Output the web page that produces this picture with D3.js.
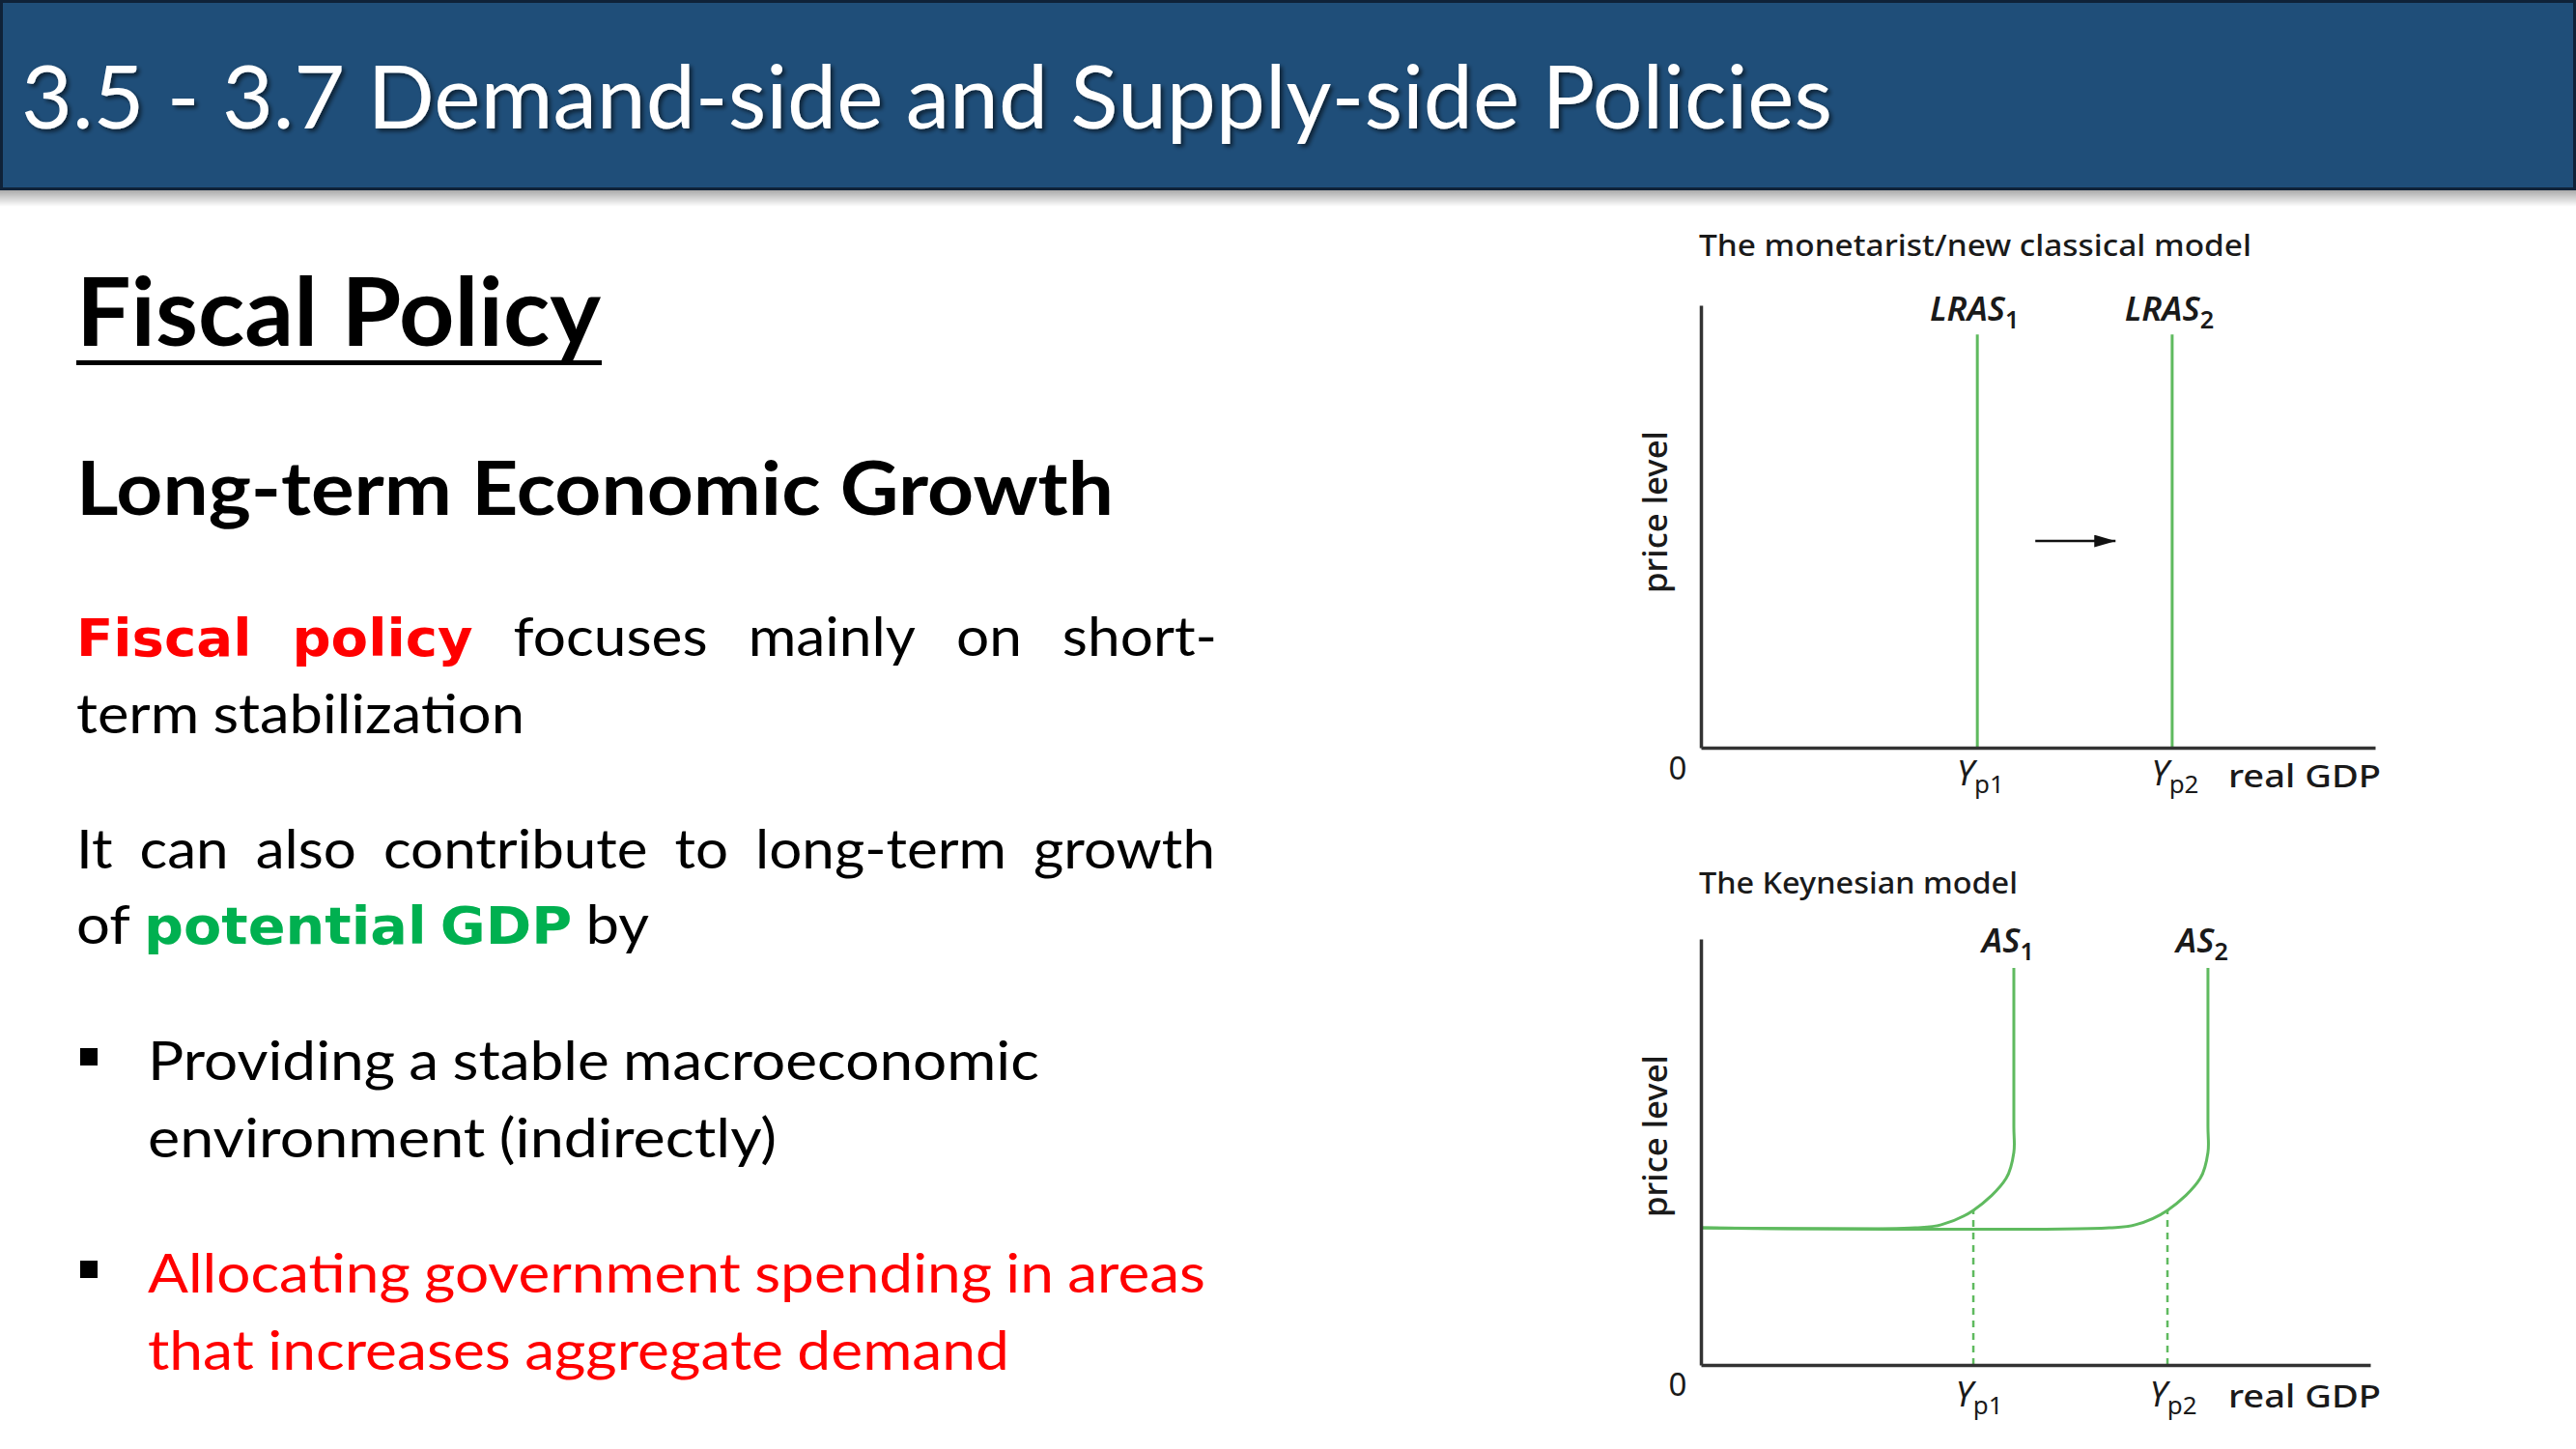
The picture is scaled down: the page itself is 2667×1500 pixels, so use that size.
<!DOCTYPE html>
<html>
<head>
<meta charset="utf-8">
<script src="https://cdn.jsdelivr.net/npm/d3@7"></script>
<style>
  body { margin: 0; background: #fff; }
  svg { display: block; }
  .slide-txt { font-family: Lato, "Open Sans", sans-serif; }
  .body { font-size: 57px; fill: #000; }
  .red { fill: #ff0000; }
  .hl-red { font-family: "DejaVu Sans", sans-serif; font-size: 53px; font-weight: 700; fill: #ff0000; }
  .hl-green { font-family: "DejaVu Sans", sans-serif; font-size: 53px; font-weight: 700; fill: #00b050; }
  .fig-txt { font-family: "Noto Sans", "Open Sans", sans-serif; fill: #1a1a1a; }
</style>
</head>
<body>
<svg id="slide" width="2667" height="1500"></svg>
<script>
// Slide text
var HEADER_TITLE = "3.5 - 3.7 Demand-side and Supply-side Policies";
var SECTION_TITLE = "Fiscal Policy";
var SUB_TITLE = "Long-term Economic Growth";

// each line = list of [text, style]
var BODY_LINES = [
  [["Fiscal policy", "hl-red"], ["focuses mainly on short-", ""]],
  [["term stabilization", ""]],
  [["It can also contribute to long-term growth", ""]],
  [["of", ""], ["potential GDP", "hl-green"], ["by", ""]],
  [["Providing a stable macroeconomic", ""]],
  [["environment (indirectly)", ""]],
  [["Allocating government spending in areas", "red"]],
  [["that increases aggregate demand", "red"]]
];

// Chart 1 - monetarist / new classical model
var CHART1_TITLE = "The monetarist/new classical model";
var LRAS_X = [41.0, 69.9];
var LRAS_SUB = ["1", "2"];
var LRAS_TOP = 93.4;
var SHIFT_ARROW = [[49.6, 46.7], [61.5, 46.7]];

// Chart 2 - Keynesian model
var CHART2_TITLE = "The Keynesian model";
var AS_SUB = ["1", "2"];
var AS1_POINTS = [[0, 32.2], [32.0, 32.2], [35.9, 32.9], [40.7, 36.3], [45.6, 43.8], [46.75, 49.9], [46.75, 56.0], [46.75, 93.2]];
var AS2_POINTS = [[0, 32.2], [61.0, 32.2], [64.9, 32.9], [69.7, 36.3], [74.6, 43.8], [75.75, 49.9], [75.75, 56.0], [75.75, 93.2]];
var YP_SUB = ["p1", "p2"];

var GREEN = "#5fba5f";
var AXIS = "#333";

var svg = d3.select("#slide");

// defs
var defs = svg.append("defs");
defs.append("filter").attr("id", "txtShadow")
    .attr("x", "-5%").attr("y", "-20%").attr("width", "110%").attr("height", "150%")
    .append("feDropShadow").attr("dx", 3).attr("dy", 3).attr("stdDeviation", 2)
    .attr("flood-color", "#000").attr("flood-opacity", 0.55);

var grad = defs.append("linearGradient").attr("id", "barShadow")
    .attr("x1", 0).attr("y1", 0).attr("x2", 0).attr("y2", 1);
grad.append("stop").attr("offset", "0").attr("stop-color", "#000").attr("stop-opacity", 0.35);
grad.append("stop").attr("offset", "1").attr("stop-color", "#000").attr("stop-opacity", 0);

defs.append("marker").attr("id", "arrowHead")
    .attr("viewBox", "0 0 22 13").attr("refX", 22).attr("refY", 6.5)
    .attr("markerWidth", 22).attr("markerHeight", 13)
    .attr("markerUnits", "userSpaceOnUse").attr("orient", "auto")
    .append("path").attr("d", "M0,0L22,6.5L0,13Z").attr("fill", "#111");

// Header bar
svg.append("rect").attr("x", 0).attr("y", 196).attr("width", 2667).attr("height", 18)
   .attr("fill", "url(#barShadow)");
svg.append("rect").attr("x", 1.5).attr("y", 1.5).attr("width", 2664).attr("height", 194)
   .attr("fill", "#1f4e79").attr("stroke", "#0f2238").attr("stroke-width", 3);
svg.append("text").attr("class", "slide-txt")
   .attr("x", 22).attr("y", 133)
   .attr("font-size", 91).attr("fill", "#fff")
   .attr("textLength", 1875).attr("lengthAdjust", "spacingAndGlyphs")
   .attr("filter", "url(#txtShadow)")
   .text(HEADER_TITLE);

// Left column headings
svg.append("text").attr("class", "slide-txt")
   .attr("x", 79).attr("y", 358)
   .attr("font-size", 97).attr("font-weight", 700)
   .attr("textLength", 543).attr("lengthAdjust", "spacingAndGlyphs")
   .text(SECTION_TITLE);
svg.append("line").attr("x1", 79).attr("x2", 623).attr("y1", 375.5).attr("y2", 375.5)
   .attr("stroke", "#000").attr("stroke-width", 5);

svg.append("text").attr("class", "slide-txt")
   .attr("x", 79).attr("y", 533)
   .attr("font-size", 77).attr("font-weight", 700)
   .attr("textLength", 1074).attr("lengthAdjust", "spacingAndGlyphs")
   .text(SUB_TITLE);

// body lines: x start, x end, baseline, word gap for justified lines
var LINE_BOX = [
  {x: 79, end: 1260, y: 679, gap: 42},
  {x: 79, end: 543, y: 759},
  {x: 79, end: 1258, y: 899, gap: 28},
  {x: 79, end: 672, y: 977},
  {x: 153, end: 1076, y: 1118, bullet: true},
  {x: 153, end: 804, y: 1198},
  {x: 153, end: 1248, y: 1338, bullet: true},
  {x: 153, end: 1045, y: 1418}
];

var draw_body_line = function (runs, box) {
  var g = svg.append("g");
  var words = [];
  runs.forEach(function (r) {
    r[0].split(" ").forEach(function (w) { words.push({t: w, c: r[1]}); });
  });
  var nodes = words.map(function (w) {
    return g.append("text").attr("class", "slide-txt body " + w.c).attr("y", 0).text(w.t);
  });
  var widths = nodes.map(function (n) { return n.node().getComputedTextLength(); });
  var sum = d3.sum(widths);
  var target = box.end - box.x;
  var n = words.length - 1;
  var gap, k;
  if (box.gap) {
    k = (target - box.gap * n) / sum;
    gap = box.gap / k;
  } else {
    gap = 57 * 0.23;
    k = target / (sum + gap * n);
  }
  var cx = 0;
  nodes.forEach(function (nd, i) {
    nd.attr("x", cx);
    cx += widths[i] + gap;
  });
  g.attr("transform", "translate(" + box.x + "," + box.y + ") scale(" + k + ",1)");
  if (box.bullet) {
    svg.append("rect").attr("x", 83).attr("y", box.y - 33).attr("width", 18).attr("height", 18)
       .attr("fill", "#000");
  }
};

BODY_LINES.forEach(function (runs, i) { draw_body_line(runs, LINE_BOX[i]); });

// Chart helpers
var draw_axes = function (g, x, y) {
  g.append("g").attr("transform", "translate(0," + y(0) + ")")
   .call(d3.axisBottom(x).tickValues([]).tickSizeOuter(0));
  g.append("g").attr("transform", "translate(" + x(0) + ",0)")
   .call(d3.axisLeft(y).tickValues([]).tickSizeOuter(0));
  g.selectAll(".domain").attr("stroke", AXIS).attr("stroke-width", 3.5);
};

var sub_label = function (g, x, y, main, sub, size) {
  var t = g.append("text").attr("class", "fig-txt").attr("x", x).attr("y", y)
           .attr("text-anchor", "middle").attr("font-size", size);
  t.append("tspan").attr("font-style", "italic").text(main);
  t.append("tspan").attr("font-size", size * 0.72).attr("dy", size * 0.22).text(sub);
  return t;
};

var axis_labels = function (g, baseZero, baseX, title, titleY, titleLen, pyCenter) {
  g.append("text").attr("class", "fig-txt").attr("x", 1737).attr("y", baseZero)
   .attr("text-anchor", "middle").attr("font-size", 33).text("0");
  g.append("text").attr("class", "fig-txt").attr("x", 2307).attr("y", baseX)
   .attr("font-size", 33).attr("font-weight", 500)
   .attr("textLength", 158).attr("lengthAdjust", "spacingAndGlyphs").text("real GDP");
  g.append("text").attr("class", "fig-txt").attr("x", 1759).attr("y", titleY)
   .attr("font-size", 31).attr("font-weight", 500)
   .attr("textLength", titleLen).attr("lengthAdjust", "spacingAndGlyphs").text(title);
  g.append("text").attr("class", "fig-txt")
   .attr("transform", "translate(1726," + pyCenter + ") rotate(-90)")
   .attr("text-anchor", "middle").attr("font-size", 34).attr("font-weight", 500)
   .attr("textLength", 168).attr("lengthAdjust", "spacingAndGlyphs").text("price level");
};

// Chart 1
var x1 = d3.scaleLinear().domain([0, 100]).range([1761, 2459]);
var y1 = d3.scaleLinear().domain([0, 100]).range([774, 316]);
var c1 = svg.append("g");

c1.selectAll(".lras").data(LRAS_X).join("line").attr("class", "lras")
  .attr("x1", function (d) { return x1(d); }).attr("x2", function (d) { return x1(d); })
  .attr("y1", y1(0)).attr("y2", y1(LRAS_TOP))
  .attr("stroke", GREEN).attr("stroke-width", 3);

draw_axes(c1, x1, y1);

c1.append("line")
  .attr("x1", x1(SHIFT_ARROW[0][0])).attr("y1", y1(SHIFT_ARROW[0][1]))
  .attr("x2", x1(SHIFT_ARROW[1][0])).attr("y2", y1(SHIFT_ARROW[1][1]))
  .attr("stroke", "#111").attr("stroke-width", 2.5).attr("marker-end", "url(#arrowHead)");

LRAS_X.forEach(function (d, i) {
  sub_label(c1, x1(d) - 3, 332, "LRAS", LRAS_SUB[i], 35).attr("font-weight", 600);
  sub_label(c1, x1(d) + 3, 813, "Y", YP_SUB[i], 36);
});
axis_labels(c1, 807, 815, CHART1_TITLE, 265, 572, 530);

// Chart 2
var x2 = d3.scaleLinear().domain([0, 100]).range([1761, 2454]);
var y2 = d3.scaleLinear().domain([0, 100]).range([1413, 972]);
var c2 = svg.append("g");

var asLine = d3.line()
  .x(function (d) { return x2(d[0]); })
  .y(function (d) { return y2(d[1]); })
  .curve(d3.curveCatmullRom.alpha(0.5));

var kinks = [AS1_POINTS[3], AS2_POINTS[3]];
c2.selectAll(".yp").data(kinks).join("line").attr("class", "yp")
  .attr("x1", function (d) { return x2(d[0]); }).attr("x2", function (d) { return x2(d[0]); })
  .attr("y1", y2(0)).attr("y2", function (d) { return y2(d[1]); })
  .attr("stroke", GREEN).attr("stroke-width", 2.5).attr("stroke-dasharray", "7,6");

c2.selectAll(".as").data([AS1_POINTS, AS2_POINTS]).join("path").attr("class", "as")
  .attr("d", asLine).attr("fill", "none")
  .attr("stroke", GREEN).attr("stroke-width", 3);

draw_axes(c2, x2, y2);

[AS1_POINTS, AS2_POINTS].forEach(function (pts, i) {
  var top = pts[pts.length - 1];
  sub_label(c2, x2(top[0]) - 6, 986, "AS", AS_SUB[i], 35).attr("font-weight", 600);
  sub_label(c2, x2(kinks[i][0]) + 6, 1456, "Y", YP_SUB[i], 36);
});
axis_labels(c2, 1445, 1457, CHART2_TITLE, 925, 330, 1176);
</script>
</body>
</html>
